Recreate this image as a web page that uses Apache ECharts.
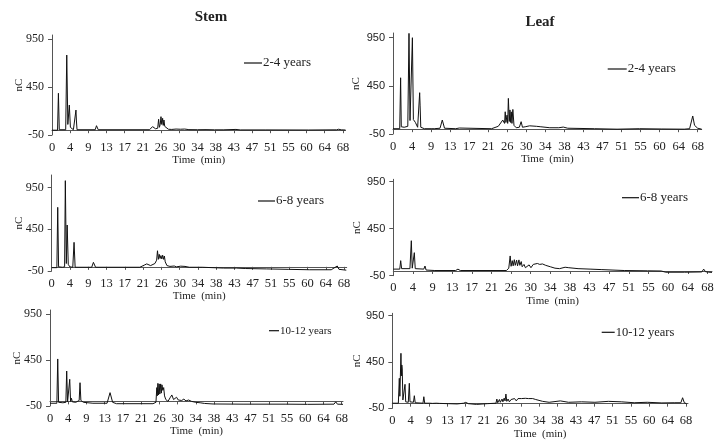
<!DOCTYPE html>
<html>
<head>
<meta charset="utf-8">
<script src="https://cdn.jsdelivr.net/npm/echarts@6/dist/echarts.min.js"></script>
<style>
  html, body { margin: 0; padding: 0; background: #fff; }
  #chart { width: 727px; height: 447px; }
</style>
</head>
<body>
<div id="chart"></div>
<script>
// eixo x: 17 marcas igualmente espaçadas de 0 a 68 min
const xTickValues = [0, 4.25, 8.5, 12.75, 17, 21.25, 25.5, 29.75, 34, 38.25, 42.5, 46.75, 51, 55.25, 59.5, 63.75, 68];
const xTickLabels = ['0', '4', '9', '13', '17', '21', '26', '30', '34', '38', '43', '47', '51', '55', '60', '64', '68'];
const yTickValues = [-50, 450, 950];

// cromatogramas [tempo (min), nC]
const stem24 = [[0,0],[1.3,0],[1.5,385],[1.7,5],[3.2,5],[3.45,783],[3.7,60],[4.05,262],[4.3,30],[4.7,15],[5.0,5],[5.45,10],[5.6,210],[5.7,106],[5.85,5],[10.1,5],[10.4,47],[10.8,5],
  [22.8,5],[23.5,37],[24.2,15],[24.7,20],[24.92,114],[25.1,30],[25.3,60],[25.47,141],[25.65,60],[25.86,124],[26.0,50],[26.17,106],[26.35,40],[26.56,55],[26.75,20],[27.2,10],
  [28,8],[29,12],[30,10],[31,12],[32,6],[34,5],[36,6],[38,4],[40,4],[43,8],[44,3],[50,3],[60,2],[66.5,4],[67,10],[67.6,4],[68.6,2]];
const leaf24 = [[0,5],[1.5,5],[1.7,534],[1.85,25],[2.5,20],[3.3,30],[3.57,995],[3.8,90],[4.05,80],[4.33,950],[4.55,100],[5.0,70],[5.5,20],[5.8,40],[5.95,379],[6.05,250],[6.2,20],
  [7,5],[8.5,5],[8.8,15],[9.2,5],[10.5,10],[11.0,95],[11.5,10],[14,5],[14.8,12],[15.2,5],[22,5],[23.5,30],[24.5,95],[24.9,60],[25.05,181],[25.2,70],[25.45,146],[25.6,60],
  [25.75,320],[25.95,80],[26.1,200],[26.25,70],[26.4,180],[26.55,60],[26.75,205],[27.0,40],[27.5,15],[28.2,20],[28.6,78],[28.9,20],[29.5,25],[30.5,35],[32,30],[33,25],
  [35,15],[37,15],[38,22],[39,10],[45,5],[50,0],[55,5],[60,2],[65,0],[66.2,5],[66.9,137],[67.3,40],[68,10],[68.9,0]];
const stem68 = [[0,-10],[1.2,-10],[1.4,714],[1.6,0],[2.5,-5],[3.0,0],[3.17,1034],[3.4,40],[3.6,502],[3.85,30],[4.2,0],[4.9,-5],[5.2,294],[5.45,-5],[9.3,-5],[9.7,54],[10.2,-5],
  [20.5,-5],[21.5,20],[22.1,35],[23,15],[24,40],[24.4,80],[24.6,193],[24.8,90],[25.0,150],[25.2,100],[25.4,135],[25.6,95],[25.8,140],[26.0,90],[26.2,130],[26.4,60],[26.8,15],
  [27.5,5],[28.5,10],[29,0],[30,8],[31,5],[32,-5],[35,-5],[40,-15],[43,-15],[45,-20],[50,-25],[55,-30],[60,-35],[65,-35],[66.4,10],[66.8,-30],[68.5,-40]];
const leaf68 = [[0,20],[1.4,20],[1.6,110],[1.8,25],[3.6,25],[3.9,322],[4.1,30],[4.35,40],[4.55,195],[4.75,25],[6.6,20],[6.86,53],[7.1,10],[9,5],[13.5,5],[14,20],[14.5,5],
  [24.5,5],[25.0,30],[25.3,160],[25.5,50],[25.75,110],[25.95,55],[26.2,120],[26.4,60],[26.7,115],[26.9,55],[27.2,118],[27.4,60],[27.7,100],[27.9,45],[28.3,70],[28.6,35],
  [29.0,55],[29.4,65],[29.8,35],[30.3,70],[30.7,60],[31.2,80],[31.7,70],[32.3,75],[33,60],[34,45],[35,30],[36,25],[37.2,40],[38,35],[40,25],[42.6,20],[45,15],[50,5],
  [55,2],[58,0],[59,-13],[63,-13],[66.8,-10],[67.2,20],[67.6,-8],[68.2,-12],[69,-15]];
const stem1012 = [[0,-20],[1.6,-20],[1.8,461],[2.0,-10],[3.0,-15],[3.7,-10],[3.89,330],[4.1,-5],[4.4,0],[4.6,240],[4.8,0],[5.0,34],[5.2,-5],[6.0,-10],[6.8,10],[7.0,203],
  [7.2,10],[7.8,-10],[10,-20],[13.3,-20],[14.0,95],[14.6,-10],[15.5,-25],[24,-25],[24.7,-10],[24.9,150],[25.0,60],[25.15,196],[25.3,70],[25.45,190],[25.6,80],[25.8,190],
  [25.95,90],[26.1,180],[26.3,120],[26.5,150],[26.7,60],[27.0,20],[27.5,0],[28.0,40],[28.4,70],[28.8,20],[29.2,30],[29.5,45],[29.9,15],[30.3,35],[30.7,10],[31.2,25],
  [31.7,5],[32.3,15],[33,0],[34,-10],[35,-15],[36,-22],[38,-28],[45,-30],[55,-30],[60,-32],[66.2,-30],[66.6,-5],[67.0,-30],[68.3,-32]];
const leaf1012 = [[0,5],[1.4,5],[1.62,274],[1.75,80],[1.85,100],[2.0,544],[2.1,300],[2.2,418],[2.3,375],[2.45,40],[2.8,30],[2.94,209],[3.1,20],[3.7,15],[3.94,220],[4.1,20],
  [4.9,15],[5.1,86],[5.3,10],[7.1,5],[7.3,75],[7.5,5],[8.7,5],[9.0,25],[9.3,3],[10.2,5],[10.5,25],[10.9,3],[13,0],[15,-3],[16.5,5],[17,14],[17.6,0],[19.5,-8],[22,0],
  [24,5],[24.2,50],[24.4,10],[24.8,45],[25.0,15],[25.4,50],[25.6,20],[25.9,60],[26.1,30],[26.3,104],[26.5,25],[26.8,50],[27.1,20],[27.5,45],[27.9,25],[28.3,55],[28.7,30],
  [29.1,55],[29.5,35],[29.9,55],[30.3,40],[30.8,58],[31.5,55],[32.5,55],[33.2,45],[34.8,25],[36.3,15],[38.9,30],[40.8,15],[43.8,20],[46.9,15],[50,25],[53,20],[56,10],
  [59,15],[62.4,8],[65.4,10],[66.8,10],[67.2,64],[67.6,10],[68.1,0]];

const serif = '"Liberation Serif", "Times New Roman", serif';
const sans = '"Liberation Sans", Arial, sans-serif';

// layout de cada painel (px) e extensão dos eixos
const paineis = [
  { nome: '2-4 years',   dados: stem24,   g: [52, 35, 293.5, 100],    xMax: 68.6, yMax: 992,  yFont: serif, nameGap: 27, leg: [244, 63, 18, 13] },
  { nome: '2-4 years',   dados: leaf24,   g: [393, 33, 308.7, 101],   xMax: 68.9, yMax: 999,  yFont: sans,  nameGap: 31, leg: [607.7, 69, 19, 13] },
  { nome: '6-8 years',   dados: stem68,   g: [51.7, 175, 295, 96],    xMax: 68.6, yMax: 1102, yFont: serif, nameGap: 27, leg: [258, 201, 17, 13] },
  { nome: '6-8 years',   dados: leaf68,   g: [393.3, 179.3, 318.7, 96.4], xMax: 69.0, yMax: 975, yFont: sans, nameGap: 31, leg: [622, 197.7, 17, 13] },
  { nome: '10-12 years', dados: stem1012, g: [50, 310, 293, 96],      xMax: 68.3, yMax: 993,  yFont: serif, nameGap: 27, leg: [269, 330.7, 10, 11] },
  { nome: '10-12 years', dados: leaf1012, g: [392.3, 313.3, 295.7, 95], xMax: 68.45, yMax: 976, yFont: sans, nameGap: 30, leg: [601.7, 332.3, 13, 12.5] }
];

const eixoCor = '#555';
const textoCor = '#222';

const grid = [], xAxis = [], yAxis = [], series = [], legend = [];
paineis.forEach((p, i) => {
  grid.push({ left: p.g[0], top: p.g[1], width: p.g[2], height: p.g[3] });
  xAxis.push({
    gridIndex: i, type: 'value', min: 0, max: p.xMax,
    name: 'Time  (min)', nameLocation: 'middle', nameGap: 18,
    nameTextStyle: { fontFamily: serif, fontSize: 11, color: textoCor },
    axisLine: { lineStyle: { color: eixoCor, width: 1 } },
    axisTick: { show: true, length: 3, customValues: xTickValues, lineStyle: { color: eixoCor } },
    axisLabel: {
      customValues: xTickValues, margin: 6, fontFamily: serif, fontSize: 12.5, color: textoCor,
      formatter: v => xTickLabels[xTickValues.indexOf(v)] ?? ''
    },
    splitLine: { show: false }
  });
  yAxis.push({
    gridIndex: i, type: 'value', min: -50, max: p.yMax,
    name: 'nC', nameLocation: 'middle', nameGap: p.nameGap, nameMoveOverlap: false,
    nameTextStyle: { fontFamily: serif, fontSize: 11, color: textoCor },
    axisLine: { show: true, lineStyle: { color: eixoCor, width: 1 } },
    axisTick: { show: true, length: 4, customValues: yTickValues, lineStyle: { color: eixoCor } },
    axisLabel: { customValues: yTickValues, margin: 8, fontFamily: p.yFont, fontSize: p.yFont === sans ? 11 : 12, color: textoCor },
    splitLine: { show: false }
  });
  series.push({
    name: p.nome, type: 'line', xAxisIndex: i, yAxisIndex: i,
    data: p.dados, showSymbol: false, symbol: 'none',
    lineStyle: { color: '#111', width: 1 }, itemStyle: { color: '#111' }
  });
  legend.push({
    data: [p.nome], left: p.leg[0], top: p.leg[1] - 7, padding: 0,
    icon: 'rect', itemWidth: p.leg[2], itemHeight: 1.2,
    selectedMode: false,
    textStyle: { fontFamily: serif, fontSize: p.leg[3], color: textoCor, lineHeight: 14, padding: [0, 0, 0, -4] }
  });
});

const chart = echarts.init(document.getElementById('chart'));
chart.setOption({
  animation: false,
  backgroundColor: '#fff',
  title: [
    { text: 'Stem', left: 211, top: 10, textAlign: 'center', padding: 0, textStyle: { fontFamily: serif, fontWeight: 'bold', fontSize: 15, color: textoCor } },
    { text: 'Leaf', left: 540, top: 15, textAlign: 'center', padding: 0, textStyle: { fontFamily: serif, fontWeight: 'bold', fontSize: 15, color: textoCor } }
  ],
  legend,
  grid, xAxis, yAxis, series
});
</script>
</body>
</html>
